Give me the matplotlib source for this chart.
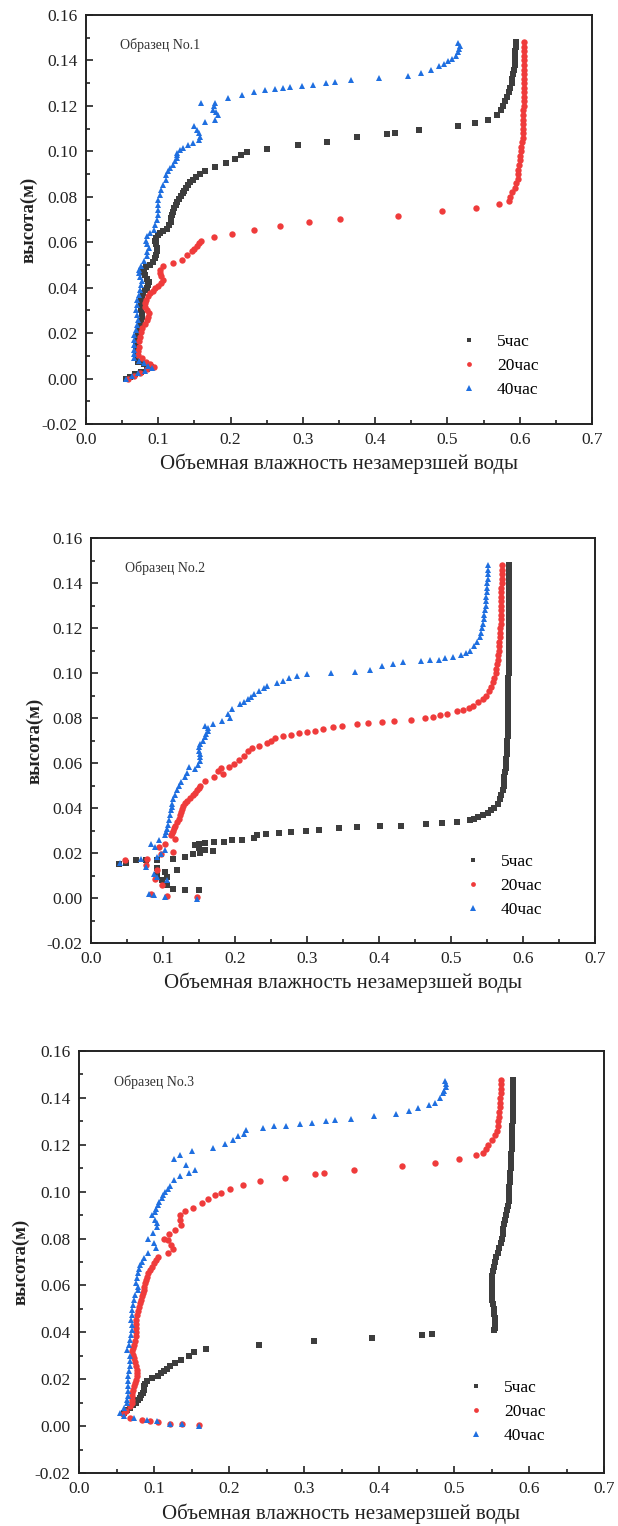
import matplotlib
matplotlib.use("Agg")
import matplotlib.pyplot as plt
from matplotlib.ticker import MultipleLocator

plt.rcParams['font.family'] = ['Liberation Serif', 'DejaVu Serif']

# ---- Sample 1: (moisture, height) points for each freezing time ----
s1_5h = [(0.595,0.148),(0.595,0.146),(0.594,0.144),(0.594,0.142),(0.593,0.140),(0.593,0.138),
         (0.592,0.136),(0.591,0.134),(0.590,0.132),(0.589,0.130),(0.587,0.128),(0.585,0.126),
         (0.583,0.124),(0.580,0.122),(0.577,0.120),(0.574,0.118),(0.569,0.116),(0.556,0.114),
         (0.538,0.1126),(0.515,0.111),(0.460,0.1093),(0.427,0.108),(0.417,0.1077),(0.375,0.1062),
         (0.333,0.1043),(0.293,0.1027),(0.251,0.1012),(0.223,0.0995),(0.214,0.0982),(0.206,0.0967),
         (0.193,0.0949),(0.179,0.093),(0.164,0.0912),(0.158,0.0900),(0.152,0.0888),(0.148,0.0876),
         (0.144,0.0865),(0.141,0.0854),(0.138,0.0840),(0.136,0.0827),(0.134,0.0815),(0.132,0.0802),
         (0.129,0.0790),(0.126,0.0778),(0.124,0.0765),(0.122,0.0750),(0.120,0.0735),(0.119,0.0720),
         (0.118,0.0705),(0.117,0.0690),(0.115,0.0675),(0.112,0.0660),(0.107,0.0650),(0.103,0.0640),
         (0.099,0.0632),(0.097,0.0620),(0.096,0.0605),(0.097,0.0590),(0.098,0.0575),(0.098,0.0560),
         (0.097,0.0545),(0.096,0.0530),(0.093,0.0515),(0.088,0.0500),(0.083,0.0490),(0.080,0.0480),
         (0.079,0.0468),(0.081,0.0455),(0.084,0.0440),(0.087,0.0425),(0.086,0.0412),(0.084,0.0400),
         (0.081,0.0388),(0.079,0.0375),(0.077,0.0360),(0.076,0.0345),(0.076,0.0330),(0.076,0.0315),
         (0.076,0.0300),(0.077,0.0285),(0.077,0.0270),(0.076,0.0255),(0.075,0.0240),(0.074,0.0225),
         (0.073,0.0210),(0.072,0.0195),(0.071,0.0180),(0.070,0.0165),(0.069,0.0150),(0.069,0.0135),
         (0.069,0.0120),(0.069,0.0105),(0.069,0.0090),(0.072,0.0075),(0.080,0.0062),(0.090,0.0053),
         (0.085,0.0042),(0.076,0.0030),(0.068,0.0018),(0.061,0.0008),(0.055,0.0)]

s1_20h = [(0.606,0.148),(0.606,0.146),(0.606,0.144),(0.606,0.142),(0.606,0.140),(0.606,0.138),
          (0.606,0.136),(0.606,0.134),(0.606,0.132),(0.606,0.130),(0.606,0.128),(0.606,0.126),
          (0.606,0.124),(0.606,0.122),(0.606,0.120),(0.605,0.118),(0.605,0.116),(0.605,0.114),
          (0.605,0.112),(0.604,0.110),(0.604,0.108),(0.604,0.106),(0.603,0.104),(0.602,0.102),
          (0.602,0.100),(0.601,0.098),(0.600,0.096),(0.599,0.094),(0.598,0.092),(0.598,0.090),
          (0.597,0.088),(0.595,0.086),(0.593,0.084),(0.590,0.082),(0.587,0.080),(0.585,0.078),
          (0.571,0.077),(0.539,0.075),(0.493,0.0736),
          (0.431,0.0717),(0.352,0.0702),(0.308,0.0688),(0.268,0.067),(0.232,0.0652),(0.202,0.0636),
          (0.177,0.0621),(0.159,0.0604),(0.156,0.0595),(0.153,0.0585),(0.150,0.0572),(0.146,0.0560),
          (0.140,0.0545),(0.133,0.0523),(0.121,0.0508),(0.107,0.0494),(0.102,0.0479),(0.102,0.0465),
          (0.104,0.0450),(0.107,0.0435),(0.104,0.0420),(0.100,0.0408),(0.096,0.0398),(0.092,0.0387),
          (0.089,0.0376),(0.086,0.0362),(0.083,0.0347),(0.082,0.0332),(0.081,0.0317),(0.084,0.0302),
          (0.087,0.0288),(0.086,0.0273),(0.085,0.0259),(0.082,0.0240),(0.078,0.0222),(0.076,0.0204),
          (0.075,0.0185),(0.074,0.0165),(0.073,0.0141),(0.072,0.0122),(0.072,0.0104),(0.077,0.0090),
          (0.083,0.0075),(0.089,0.0064),(0.094,0.0053),(0.085,0.0040),(0.075,0.0026),(0.066,0.0012),
          (0.058,0.0)]

s1_40h = [(0.515,0.1478),(0.517,0.1465),(0.516,0.1450),(0.514,0.1435),(0.512,0.1420),(0.507,0.1408),
          (0.501,0.1397),(0.495,0.1386),(0.488,0.1375),(0.477,0.136),(0.463,0.1343),(0.446,0.1331),
          (0.405,0.1322),(0.367,0.1312),(0.345,0.1305),(0.332,0.1299),(0.314,0.1293),(0.299,0.1287),
          (0.282,0.1283),(0.272,0.1278),(0.262,0.1275),(0.247,0.1271),(0.232,0.1261),(0.216,0.1247),
          (0.197,0.1233),(0.179,0.1214),(0.159,0.1214),(0.177,0.1198),(0.175,0.1184),(0.180,0.1172),
          (0.182,0.1162),(0.178,0.114),(0.164,0.1128),(0.150,0.111),(0.153,0.1095),(0.157,0.1081),
          (0.158,0.1065),(0.156,0.105),(0.148,0.1037),(0.141,0.1026),(0.134,0.1015),(0.130,0.1004),
          (0.126,0.0993),(0.126,0.0982),(0.126,0.0971),(0.123,0.0957),(0.120,0.0942),(0.116,0.0927),
          (0.113,0.0912),(0.111,0.0894),(0.110,0.0876),(0.107,0.0854),(0.104,0.0832),(0.102,0.0810),
          (0.100,0.0788),(0.100,0.0765),(0.099,0.0743),(0.099,0.0721),(0.098,0.0699),(0.096,0.0677),
          (0.094,0.0655),(0.089,0.0640),(0.085,0.0626),(0.083,0.0604),(0.085,0.0590),(0.087,0.0575),
          (0.085,0.0556),(0.084,0.0538),(0.080,0.0516),(0.076,0.0494),(0.074,0.0479),(0.073,0.0464),
          (0.075,0.0446),(0.077,0.0428),(0.076,0.0410),(0.075,0.0391),(0.073,0.0369),(0.071,0.0347),
          (0.070,0.0325),(0.069,0.0303),(0.071,0.0281),(0.072,0.0259),(0.070,0.0237),(0.069,0.0215),
          (0.067,0.0192),(0.066,0.017),(0.066,0.0148),(0.066,0.0126),(0.066,0.0108),(0.066,0.009),
          (0.073,0.0079),(0.080,0.0068),(0.086,0.0057),(0.091,0.0046),(0.082,0.0035),(0.072,0.0024),
          (0.063,0.0012),(0.055,0.0)]

# ---- Sample 2 ----
s2_5h = [(0.580,0.148),(0.580,0.146),(0.580,0.144),(0.580,0.142),(0.580,0.140),(0.580,0.138),
         (0.580,0.136),(0.580,0.134),(0.580,0.132),(0.580,0.130),(0.580,0.128),(0.580,0.126),
         (0.580,0.124),(0.580,0.122),(0.580,0.120),(0.580,0.118),(0.580,0.116),(0.580,0.114),
         (0.580,0.112),(0.580,0.110),(0.580,0.108),(0.580,0.106),(0.580,0.104),(0.580,0.102),
         (0.580,0.100),(0.579,0.098),(0.579,0.096),(0.579,0.094),(0.579,0.092),(0.579,0.090),
         (0.579,0.088),(0.579,0.086),(0.579,0.084),(0.579,0.082),(0.579,0.080),(0.579,0.078),
         (0.579,0.076),(0.579,0.074),(0.579,0.072),(0.578,0.070),(0.578,0.068),(0.578,0.066),
         (0.578,0.064),(0.577,0.062),(0.577,0.060),(0.576,0.058),(0.575,0.056),(0.574,0.054),
         (0.574,0.052),(0.573,0.050),(0.572,0.048),(0.570,0.046),(0.568,0.044),(0.565,0.042),
         (0.560,0.040),(0.556,0.039),(0.552,0.038),(0.545,0.037),(0.538,0.036),(0.532,0.0353),
         (0.527,0.0348),(0.508,0.034),(0.487,0.0334),(0.465,0.033),
         (0.431,0.0322),(0.401,0.0321),(0.369,0.0315),(0.345,0.0309),(0.317,0.0303),(0.299,0.030),
         (0.278,0.0294),(0.261,0.0288),(0.243,0.0285),(0.230,0.0278),(0.226,0.0268),(0.210,0.0259),
         (0.196,0.0256),(0.185,0.0251),(0.171,0.0247),(0.158,0.0244),(0.150,0.0241),(0.144,0.0234),
         (0.150,0.0223),(0.158,0.0214),(0.169,0.0209),(0.152,0.020),(0.141,0.0194),(0.130,0.0182),
         (0.114,0.0175),(0.092,0.017),(0.076,0.0167),(0.062,0.017),(0.048,0.0155),(0.039,0.0149),
         (0.092,0.0135),(0.119,0.0126),(0.103,0.0115),(0.092,0.0101),(0.106,0.0093),(0.098,0.0078),
         (0.106,0.0056),(0.114,0.0041),(0.130,0.0037),(0.150,0.0034)]

s2_20h = [(0.571,0.148),(0.571,0.146),(0.571,0.144),(0.571,0.142),(0.571,0.140),(0.570,0.138),
          (0.570,0.136),(0.570,0.134),(0.570,0.132),(0.570,0.130),(0.570,0.128),(0.569,0.126),
          (0.569,0.124),(0.569,0.122),(0.568,0.120),(0.568,0.118),(0.568,0.116),(0.567,0.114),
          (0.567,0.112),(0.566,0.110),(0.565,0.108),(0.565,0.106),(0.564,0.104),(0.563,0.102),
          (0.562,0.100),(0.560,0.098),(0.559,0.096),(0.556,0.094),(0.553,0.092),(0.549,0.090),
          (0.544,0.0885),(0.538,0.087),(0.531,0.0855),
          (0.525,0.0845),(0.516,0.0837),(0.508,0.083),(0.495,0.0818),(0.485,0.0812),(0.475,0.0806),
          (0.464,0.080),(0.445,0.0791),(0.421,0.0788),(0.404,0.0782),(0.385,0.0778),(0.369,0.0774),
          (0.349,0.0766),(0.336,0.0759),(0.322,0.0751),(0.311,0.0744),(0.300,0.074),(0.289,0.0734),
          (0.278,0.0726),(0.267,0.0719),(0.256,0.071),(0.250,0.0700),(0.245,0.0688),(0.234,0.0677),
          (0.223,0.0667),(0.218,0.0652),(0.212,0.0633),(0.206,0.0614),(0.199,0.0596),(0.191,0.0584),
          (0.180,0.0578),(0.177,0.0564),(0.183,0.0552),(0.171,0.0537),(0.158,0.0519),(0.152,0.050),
          (0.150,0.0490),(0.147,0.0478),(0.144,0.0467),(0.141,0.0456),(0.137,0.0445),(0.133,0.0433),
          (0.130,0.0422),(0.128,0.0411),(0.126,0.0396),(0.125,0.0382),(0.123,0.0367),(0.122,0.0352),
          (0.120,0.0337),(0.117,0.0322),(0.115,0.0311),(0.114,0.030),(0.112,0.0289),(0.111,0.0278),
          (0.117,0.0263),(0.103,0.0241),(0.095,0.0226),(0.114,0.0204),(0.097,0.0194),(0.078,0.0175),
          (0.047,0.017),(0.076,0.0145),(0.092,0.0123),(0.089,0.0086),(0.098,0.0056),(0.084,0.0016),
          (0.106,0.0007),(0.147,0.0004)]

s2_40h = [(0.551,0.148),(0.551,0.146),(0.551,0.144),(0.551,0.142),(0.550,0.140),(0.550,0.138),
          (0.550,0.136),(0.549,0.134),(0.549,0.132),(0.548,0.130),(0.547,0.128),(0.546,0.126),
          (0.546,0.124),(0.545,0.122),(0.543,0.120),(0.542,0.118),(0.540,0.116),(0.536,0.114),
          (0.532,0.112),(0.527,0.110),(0.521,0.109),(0.514,0.108),(0.503,0.107),(0.492,0.1065),
          (0.483,0.1059),(0.471,0.1057),(0.459,0.1055),(0.434,0.1047),(0.420,0.104),(0.404,0.1032),
          (0.387,0.1013),(0.366,0.1006),(0.333,0.0998),(0.300,0.0995),(0.286,0.0988),(0.275,0.0978),
          (0.267,0.0966),(0.259,0.0954),(0.245,0.0944),(0.240,0.0932),(0.234,0.0921),(0.226,0.0907),
          (0.222,0.0895),(0.218,0.0884),(0.212,0.0873),(0.207,0.0862),(0.196,0.084),(0.190,0.0818),
          (0.193,0.080),(0.182,0.0785),(0.169,0.0774),(0.158,0.0766),(0.163,0.0755),(0.163,0.0744),
          (0.160,0.0729),(0.158,0.0714),(0.155,0.0700),(0.152,0.0685),(0.150,0.0670),(0.150,0.0655),
          (0.151,0.0640),(0.152,0.0625),(0.152,0.0611),(0.148,0.0592),(0.144,0.0574),(0.136,0.0581),
          (0.133,0.0555),(0.130,0.0537),(0.125,0.0515),(0.122,0.0497),(0.119,0.0478),(0.116,0.0460),
          (0.114,0.0441),(0.113,0.0419),(0.112,0.0404),(0.111,0.0389),(0.110,0.0367),(0.108,0.0345),
          (0.107,0.0326),(0.106,0.0308),(0.104,0.0293),(0.103,0.0278),(0.095,0.0256),(0.084,0.0241),
          (0.089,0.0226),(0.103,0.0212),(0.097,0.0197),(0.092,0.0182),(0.070,0.0175),(0.040,0.0155),
          (0.076,0.014),(0.087,0.0108),(0.092,0.0093),(0.106,0.0078),(0.081,0.0019),(0.087,0.0012),
          (0.103,0.0004),(0.147,-0.0003)]

# ---- Sample 3 ----
s3_5h = [(0.578,0.1477),(0.578,0.146),(0.578,0.144),(0.578,0.142),(0.578,0.140),(0.578,0.138),
         (0.578,0.136),(0.578,0.134),(0.578,0.132),(0.578,0.130),(0.577,0.128),(0.577,0.126),
         (0.577,0.124),(0.577,0.122),(0.577,0.120),(0.577,0.118),(0.576,0.116),(0.576,0.114),
         (0.576,0.112),(0.576,0.110),(0.575,0.108),(0.575,0.106),(0.575,0.104),(0.574,0.102),
         (0.574,0.100),(0.573,0.098),(0.573,0.096),(0.572,0.094),(0.571,0.092),(0.570,0.090),
         (0.568,0.088),(0.567,0.086),(0.566,0.084),(0.565,0.082),(0.564,0.080),(0.562,0.078),
         (0.560,0.076),(0.558,0.074),(0.556,0.072),(0.554,0.070),(0.553,0.068),(0.552,0.066),
         (0.551,0.064),(0.550,0.062),(0.550,0.060),(0.550,0.058),(0.551,0.056),(0.551,0.054),
         (0.552,0.052),(0.553,0.050),(0.553,0.048),(0.554,0.046),(0.555,0.044),(0.554,0.042),
         (0.553,0.041),(0.470,0.0393),(0.457,0.039),(0.391,0.0376),(0.313,0.0361),(0.240,0.0344),
         (0.169,0.0329),(0.153,0.0315),(0.146,0.0298),(0.136,0.0283),(0.128,0.0269),(0.121,0.0255),
         (0.117,0.0245),(0.113,0.0234),(0.109,0.0225),(0.105,0.0215),(0.097,0.0206),(0.090,0.0191),
         (0.088,0.018),(0.087,0.017),(0.086,0.0156),(0.085,0.0142),(0.083,0.0131),(0.081,0.012),
         (0.079,0.011),(0.076,0.0099),(0.072,0.0088),(0.068,0.0078),(0.064,0.0067),(0.060,0.0057)]

s3_20h = [(0.562,0.1477),(0.562,0.146),(0.562,0.144),(0.562,0.142),(0.561,0.140),(0.561,0.138),
          (0.561,0.136),(0.560,0.134),(0.560,0.132),(0.559,0.130),(0.558,0.128),(0.557,0.126),
          (0.555,0.124),(0.551,0.122),(0.545,0.120),(0.542,0.118),
          (0.539,0.1165),(0.529,0.1155),(0.507,0.114),(0.475,0.1123),(0.431,0.1108),(0.366,0.1091),
          (0.326,0.108),(0.315,0.1077),(0.274,0.106),(0.241,0.1045),(0.218,0.1028),(0.201,0.1013),
          (0.189,0.0995),(0.181,0.0985),(0.172,0.0967),(0.164,0.095),(0.152,0.0931),(0.141,0.0917),
          (0.134,0.090),(0.134,0.0879),(0.136,0.0857),(0.128,0.0836),(0.120,0.0818),(0.113,0.080),
          (0.118,0.0794),(0.123,0.0772),(0.125,0.0754),(0.118,0.0737),(0.105,0.072),(0.102,0.0707),
          (0.100,0.0694),(0.097,0.0680),(0.094,0.0666),(0.092,0.0652),(0.090,0.0638),(0.089,0.0624),
          (0.088,0.0609),(0.087,0.0595),(0.086,0.0581),(0.085,0.0567),(0.084,0.0553),(0.082,0.0538),
          (0.081,0.0524),(0.080,0.0507),(0.078,0.0489),(0.077,0.0472),(0.076,0.0454),(0.076,0.0436),
          (0.076,0.0418),(0.076,0.0400),(0.076,0.0383),(0.075,0.0365),(0.073,0.0347),(0.072,0.0333),
          (0.071,0.0319),(0.072,0.0305),(0.073,0.0291),(0.074,0.0273),(0.076,0.0255),(0.077,0.0241),
          (0.077,0.0227),(0.077,0.0212),(0.076,0.0198),(0.075,0.0184),(0.073,0.017),(0.072,0.0156),
          (0.071,0.0142),(0.071,0.0128),(0.071,0.0113),(0.070,0.0099),(0.068,0.0085),(0.063,0.0064),
          (0.058,0.005),(0.068,0.0035),(0.084,0.0028),(0.094,0.0021),(0.105,0.0017),(0.121,0.0011),
          (0.137,0.0007),(0.160,0.0003)]

s3_40h = [(0.488,0.1474),(0.489,0.146),(0.489,0.1445),(0.487,0.143),(0.485,0.142),(0.481,0.140),
          (0.474,0.138),(0.467,0.137),(0.452,0.1358),(0.440,0.1346),(0.423,0.133),(0.393,0.1321),
          (0.362,0.1308),(0.341,0.1304),(0.329,0.13),(0.311,0.1294),(0.295,0.1287),(0.276,0.1281),
          (0.260,0.1278),(0.245,0.1273),(0.223,0.1261),(0.220,0.1247),(0.212,0.1236),(0.205,0.1222),
          (0.195,0.1205),(0.178,0.1188),(0.151,0.1172),(0.135,0.1158),(0.127,0.1141),(0.142,0.1113),
          (0.155,0.1094),(0.146,0.1081),(0.134,0.1066),(0.126,0.1049),(0.121,0.1024),(0.118,0.1011),
          (0.115,0.0999),(0.112,0.0985),(0.110,0.0971),(0.107,0.0957),(0.105,0.0943),(0.103,0.0928),
          (0.101,0.0914),(0.097,0.090),(0.101,0.0879),(0.104,0.0865),(0.104,0.085),(0.099,0.0822),
          (0.092,0.080),(0.100,0.078),(0.102,0.0758),(0.092,0.0737),(0.087,0.0716),(0.084,0.0700),
          (0.081,0.0687),(0.080,0.0670),(0.079,0.0652),(0.077,0.0631),(0.076,0.061),(0.078,0.0595),
          (0.078,0.0581),(0.075,0.0560),(0.073,0.0539),(0.072,0.0517),(0.071,0.0496),(0.070,0.0475),
          (0.069,0.0454),(0.070,0.0432),(0.071,0.0411),(0.069,0.0390),(0.068,0.0369),(0.066,0.0347),
          (0.064,0.0326),(0.068,0.0298),(0.068,0.0276),(0.068,0.0255),(0.066,0.0234),(0.065,0.0213),
          (0.065,0.0192),(0.065,0.017),(0.065,0.0149),(0.065,0.0128),(0.064,0.0113),(0.064,0.0099),
          (0.060,0.0078),(0.055,0.0057),(0.060,0.0043),(0.073,0.0035),(0.090,0.0028),(0.104,0.0021),
          (0.121,0.0011),(0.137,0.0007),(0.160,0.0)]

series_labels = ['5час', '20час', '40час']
sample_titles = ['Образец No.1', 'Образец No.2', 'Образец No.3']
x_label = 'Объемная влажность незамерзшей воды'
y_label = 'высота(м)'

samples = [(s1_5h, s1_20h, s1_40h), (s2_5h, s2_20h, s2_40h), (s3_5h, s3_20h, s3_40h)]

colors = ['#3d3d3d', '#ef3b3b', '#1f6fe0']
markers = ['s', 'o', '^']
msizes = [4.3, 4.6, 5.0]

W, H = 618, 1526
fig = plt.figure(figsize=(W / 100, H / 100), dpi=100)

# axes boxes in pixels: left, right, top, bottom
boxes = [(86, 592, 15, 424), (91, 595, 538, 943), (79, 604, 1051, 1473)]

for (l, r, t, b), data, title in zip(boxes, samples, sample_titles):
    ax = fig.add_axes([l / W, (H - b) / H, (r - l) / W, (b - t) / H])
    for pts, c, m, ms, lab in zip(data, colors, markers, msizes, series_labels):
        xs = [p[0] for p in pts]
        ys = [p[1] for p in pts]
        ax.plot(xs, ys, linestyle='none', marker=m, markersize=ms, color=c,
                markeredgewidth=0, label=lab)
    ax.set_xlim(0.0, 0.7)
    ax.set_ylim(-0.02, 0.16)
    ax.xaxis.set_major_locator(MultipleLocator(0.1))
    ax.xaxis.set_minor_locator(MultipleLocator(0.05))
    ax.yaxis.set_major_locator(MultipleLocator(0.02))
    ax.yaxis.set_minor_locator(MultipleLocator(0.01))
    ax.xaxis.set_major_formatter(plt.FuncFormatter(lambda v, p: f'{v:.1f}'))
    ax.yaxis.set_major_formatter(plt.FuncFormatter(lambda v, p: f'{v:.2f}'))
    ax.tick_params(which='both', direction='in', top=False, right=False,
                   labelsize=12.5, width=1.2, colors='#222222', pad=6)
    ax.tick_params(which='major', length=5)
    ax.tick_params(which='minor', length=3)
    for s in ax.spines.values():
        s.set_linewidth(1.4)
        s.set_color('#222222')
    ax.set_xlabel(x_label, fontsize=15, color='#222222')
    ax.set_ylabel(y_label, fontsize=13.5, fontweight='bold', color='#222222')
    ax.xaxis.set_label_coords(0.5, -0.073)
    ax.yaxis.set_label_coords(-0.095, 0.5)
    ax.text(0.047, 0.1467, title, fontsize=10, color='#333333', va='center', ha='left')
    ax.legend(loc='upper left', bbox_to_anchor=(0.73, 0.238), frameon=False,
              fontsize=12.5, handlelength=0.8, handletextpad=1.2,
              labelspacing=0.45, markerscale=0.75, borderaxespad=0)

fig.savefig('out.png', dpi=100)
